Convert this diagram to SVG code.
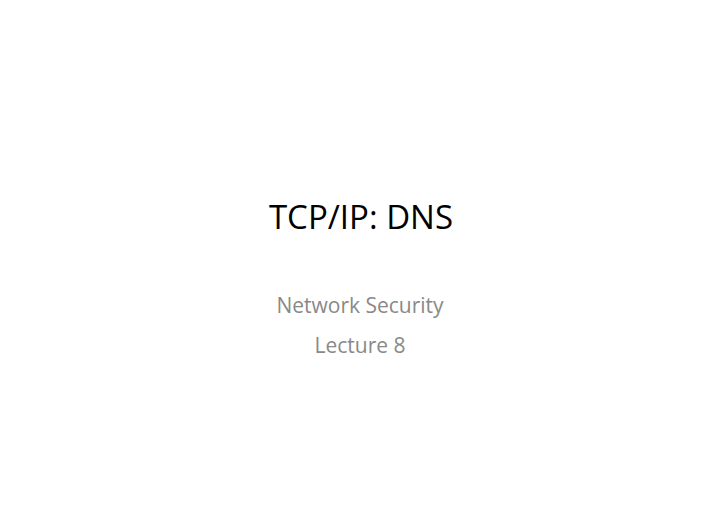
<svg xmlns="http://www.w3.org/2000/svg" width="720" height="509" viewBox="0 0 720 509">
<style>
text{font-family:"Open Sans","Liberation Sans",sans-serif;text-anchor:middle}
.t{font-size:33px;fill:#000}
.s{font-size:21px;fill:#898989}
</style>
<rect width="720" height="509" fill="#fff"/>
<text class="t" x="361" y="229">TCP/IP: DNS</text>
<text class="s" x="360" y="313">Network Security</text>
<text class="s" x="360" y="353">Lecture 8</text>
</svg>
